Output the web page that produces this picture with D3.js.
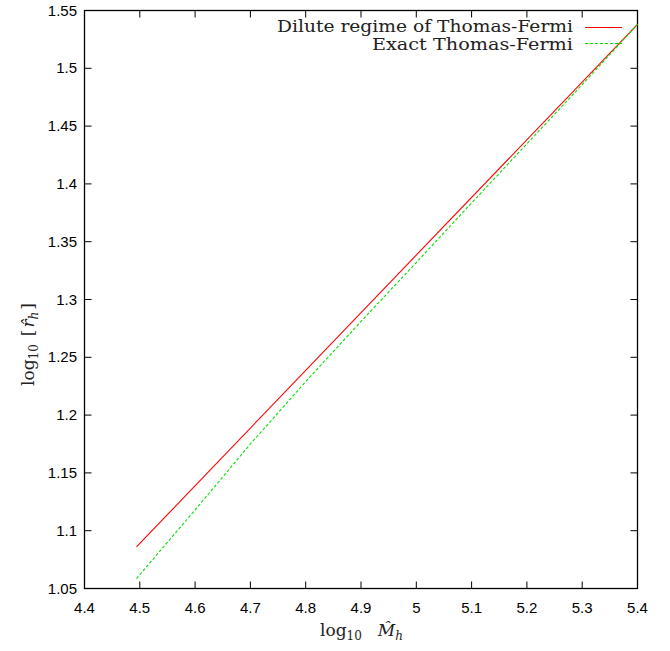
<!DOCTYPE html>
<html><head><meta charset="utf-8">
<script src="https://cdn.jsdelivr.net/npm/d3@7"></script>
<style>body{margin:0;background:#fff}</style>
</head><body>
<script>
const xTicks = [4.4,4.5,4.6,4.7,4.8,4.9,5.0,5.1,5.2,5.3,5.4];
const xTickLabels = ["4.4","4.5","4.6","4.7","4.8","4.9","5","5.1","5.2","5.3","5.4"];
const yTicks = [1.05,1.1,1.15,1.2,1.25,1.3,1.35,1.4,1.45,1.5,1.55];
const yTickLabels = ["1.05","1.1","1.15","1.2","1.25","1.3","1.35","1.4","1.45","1.5","1.55"];
const diluteX = [4.494, 5.4];
const diluteY = [1.086, 1.538];
const exactX = [4.494, 4.6, 4.7, 4.8, 4.9, 5.0, 5.1, 5.2, 5.3, 5.4];
const exactY = [1.0586, 1.118, 1.175, 1.229, 1.281, 1.332, 1.3835, 1.4347, 1.4859, 1.538];
const seriesNames = ["Dilute regime of Thomas-Fermi", "Exact Thomas-Fermi"];

const W=670,H=651;
const m={l:84.5,r:637.5,t:10.5,b:588.5};
const svg=d3.select("body").append("svg").attr("width",W).attr("height",H);
const x=d3.scaleLinear().domain([4.4,5.4]).range([m.l,m.r]);
const y=d3.scaleLinear().domain([1.05,1.55]).range([m.b,m.t]);
const tickFont='"Liberation Sans Narrow","Liberation Sans",sans-serif';
const serif='"DejaVu Serif","Liberation Serif",serif';

// ticks
const tk=svg.append("g").attr("stroke","#000").attr("stroke-width",1);
xTicks.forEach(v=>{
  tk.append("line").attr("x1",x(v)).attr("x2",x(v)).attr("y1",m.b).attr("y2",m.b-7);
  tk.append("line").attr("x1",x(v)).attr("x2",x(v)).attr("y1",m.t).attr("y2",m.t+7);
});
yTicks.forEach(v=>{
  tk.append("line").attr("x1",m.l).attr("x2",m.l+7).attr("y1",y(v)).attr("y2",y(v));
  tk.append("line").attr("x1",m.r).attr("x2",m.r-7).attr("y1",y(v)).attr("y2",y(v));
});
svg.append("rect").attr("x",m.l).attr("y",m.t).attr("width",m.r-m.l).attr("height",m.b-m.t)
  .attr("fill","none").attr("stroke","#000").attr("stroke-width",1.3);

xTicks.forEach((v,i)=>{
  svg.append("text").attr("x",x(v)).attr("y",613).attr("text-anchor","middle")
    .attr("font-family",tickFont).attr("font-size",15).text(xTickLabels[i]);
});
yTicks.forEach((v,i)=>{
  svg.append("text").attr("x",77).attr("y",y(v)+5).attr("text-anchor","end")
    .attr("font-family",tickFont).attr("font-size",15).text(yTickLabels[i]);
});

// data lines
const line=d3.line().x(d=>x(d[0])).y(d=>y(d[1]));
svg.append("path").datum(diluteX.map((v,i)=>[v,diluteY[i]])).attr("d",line)
  .attr("fill","none").attr("stroke","#ff0000").attr("stroke-width",1.1);
svg.append("path").datum(exactX.map((v,i)=>[v,exactY[i]])).attr("d",line)
  .attr("fill","none").attr("stroke","#00e000").attr("stroke-width",1.1).attr("stroke-dasharray","3,2");

// legend
svg.append("text").attr("x",573).attr("y",32).attr("text-anchor","end")
  .attr("font-family",serif).attr("font-size",17).attr("fill","#222")
  .attr("textLength",296).attr("lengthAdjust","spacingAndGlyphs").text(seriesNames[0]);
svg.append("line").attr("x1",585).attr("x2",622).attr("y1",27.5).attr("y2",27.5)
  .attr("stroke","#ff0000").attr("stroke-width",1.2);
svg.append("text").attr("x",573).attr("y",50).attr("text-anchor","end")
  .attr("font-family",serif).attr("font-size",17).attr("fill","#222")
  .attr("textLength",201).attr("lengthAdjust","spacingAndGlyphs").text(seriesNames[1]);
svg.append("line").attr("x1",585).attr("x2",622).attr("y1",43.5).attr("y2",43.5)
  .attr("stroke","#00e000").attr("stroke-width",1.2).attr("stroke-dasharray","3,2");

// axis labels
const xl=svg.append("text").attr("x",320).attr("y",636).attr("font-family",serif).attr("font-size",17).attr("fill","#222");
xl.append("tspan").text("log");
xl.append("tspan").attr("font-size",12).attr("dy",4).text("10");
xl.append("tspan").attr("dy",-4).attr("dx",16).attr("font-style","italic").text("M̂");
xl.append("tspan").attr("font-size",12).attr("dy",4).attr("font-style","italic").text("h");

const yl=svg.append("text").attr("transform","translate(34,386) rotate(-90)").attr("font-family",serif).attr("font-size",17).attr("fill","#222");
yl.append("tspan").text("log");
yl.append("tspan").attr("font-size",12).attr("dy",4).text("10");
yl.append("tspan").attr("dy",-4).attr("dx",8).text("[");
yl.append("tspan").attr("font-style","italic").attr("dx",2).text("r̂");
yl.append("tspan").attr("font-size",12).attr("dy",4).attr("font-style","italic").text("h");
yl.append("tspan").attr("dy",-4).attr("dx",2).text("]");
</script>
</body></html>
